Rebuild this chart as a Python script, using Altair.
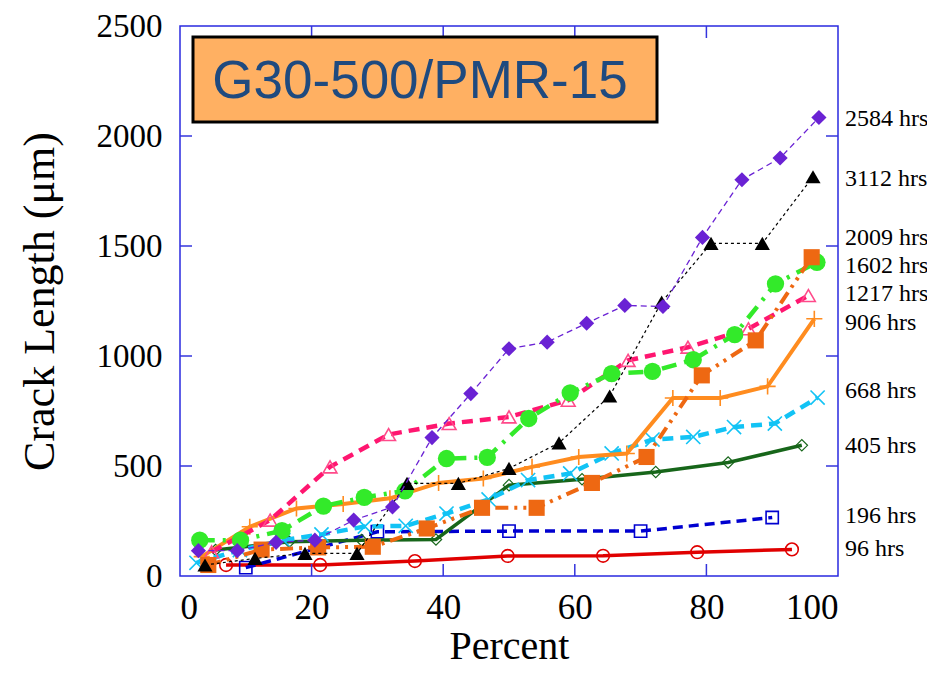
import altair as alt
import pandas as pd

# ---- data ----
x_96 = [7.0, 21.3, 35.7, 49.8, 64.3, 78.6, 93.0]
y_96 = [50, 50, 68, 91, 92, 108, 121]

x_196 = [10.0, 30.0, 50.0, 70.0, 90.0]
y_196 = [38, 201, 204, 204, 266]

x_405 = [5.4, 16.6, 27.6, 38.9, 50.0, 61.1, 72.3, 83.3, 94.5]
y_405 = [118, 156, 163, 166, 413, 440, 473, 516, 594]

x_668 = [2.5, 9.1, 15.7, 21.5, 28.1, 34.3, 40.5, 46.9, 52.9, 59.3, 65.6, 71.8, 78.0, 84.2, 90.4, 96.9]
y_668 = [60, 118, 163, 189, 225, 228, 284, 348, 436, 466, 557, 620, 632, 677, 693, 811]

x_906 = [3.3, 10.6, 17.7, 24.8, 31.9, 39.3, 46.1, 53.5, 60.6, 67.9, 74.9, 82.1, 89.3, 96.4]
y_906 = [88, 224, 307, 327, 353, 423, 443, 496, 541, 557, 809, 809, 862, 1169]

x_1217 = [4.8, 13.7, 22.8, 31.7, 40.9, 50.0, 59.0, 68.1, 77.2, 86.4, 95.5]
y_1217 = [110, 254, 496, 643, 693, 723, 799, 980, 1040, 1124, 1275]

x_1602 = [3.0, 9.2, 15.5, 21.8, 28.0, 34.2, 40.5, 46.7, 53.0, 59.3, 65.6, 71.8, 78.0, 84.3, 90.5, 96.8]
y_1602 = [163, 163, 206, 318, 357, 387, 534, 539, 716, 832, 920, 930, 983, 1097, 1328, 1426]

x_2009 = [4.3, 12.4, 21.0, 29.3, 37.5, 45.9, 54.2, 62.6, 70.9, 79.3, 87.5, 96.0]
y_2009 = [50, 120, 130, 133, 216, 310, 310, 423, 541, 912, 1071, 1449]

x_3112 = [3.8, 11.4, 19.0, 26.9, 34.5, 42.3, 50.0, 57.6, 65.3, 73.2, 80.7, 88.5, 96.2]
y_3112 = [50, 80, 103, 103, 421, 421, 489, 605, 818, 1245, 1512, 1512, 1815]

x_2584 = [2.8, 8.7, 14.6, 20.5, 26.4, 32.3, 38.3, 44.2, 50.0, 55.8, 61.8, 67.6, 73.4, 79.4, 85.4, 91.2, 97.1]
y_2584 = [115, 115, 153, 163, 254, 314, 629, 829, 1033, 1063, 1149, 1230, 1225, 1539, 1801, 1900, 2084]

end_labels = ["2584 hrs", "3112 hrs", "2009 hrs", "1602 hrs", "1217 hrs", "906 hrs",
              "668 hrs", "405 hrs", "196 hrs", "96 hrs"]
end_label_y = [2078, 1806, 1538, 1411, 1284, 1152, 839, 590, 272, 122]

x_ticks = [0, 20, 40, 60, 80, 100]
y_ticks = [0, 500, 1000, 1500, 2000, 2500]
inner_x_ticks = [20, 40, 60, 80]
inner_y_ticks = [500, 1000, 1500, 2000]

W, H = 658, 550
SERIF = "Liberation Serif"

xs = alt.Scale(domain=[0, 100], nice=False)
ys = alt.Scale(domain=[0, 2500], nice=False)

X = alt.X("x:Q", scale=xs, axis=alt.Axis(
    title="Percent", values=x_ticks, format="d", grid=False, domain=False, ticks=False,
    labelFont=SERIF, labelFontSize=35, labelColor="black", labelPadding=14,
    titleFont=SERIF, titleFontSize=40, titleFontWeight="normal", titleColor="black",
    titlePadding=1))
Y = alt.Y("y:Q", scale=ys, axis=alt.Axis(
    title="Crack Length (μm)", values=y_ticks, format="d", grid=False, domain=False, ticks=False,
    labelFont=SERIF, labelFontSize=33, labelColor="black", labelPadding=18,
    titleFont=SERIF, titleFontSize=44, titleFontWeight="normal", titleColor="black",
    titlePadding=34))

PLUS = "M-1,0L1,0M0,-1L0,1"
XMARK = "M-1,-1L1,1M1,-1L-1,1"

series = [
    # xs, ys, color, dash, lw, shape, size, filled, mstroke
    (x_96, y_96, "#e00000", None, 3.5, "circle", 160, False, 1.6),
    (x_196, y_196, "#0000d0", [10, 6], 3.5, "square", 150, False, 1.6),
    (x_405, y_405, "#17661a", None, 3.5, "diamond", 130, False, 1.2),
    (x_668, y_668, "#12c3f5", [11, 7], 4.5, XMARK, 200, False, 1.6),
    (x_906, y_906, "#ff8c1f", None, 4.0, PLUS, 260, False, 1.6),
    (x_1217, y_1217, "#ff1670", [11, 7], 4.5, "triangle-up", 190, False, 1.6),
    (x_1602, y_1602, "#33ea2a", [15, 8, 3, 8], 4.5, "circle", 300, True, 0),
    (x_2009, y_2009, "#ee6812", [13, 6, 3, 6, 3, 6], 4.0, "square", 260, True, 0),
    (x_3112, y_3112, "black", [3, 3], 1.2, "triangle-up", 230, True, 0),
    (x_2584, y_2584, "#6a22d4", [6, 4], 1.3, "diamond", 230, True, 0),
]

layers = []
for sx, sy, color, dash, lw, shape, size, filled, ms in series:
    df = pd.DataFrame({"x": sx, "y": sy})
    lkw = dict(color=color, strokeWidth=lw, clip=True)
    if dash:
        lkw["strokeDash"] = dash
    layers.append(alt.Chart(df).mark_line(**lkw).encode(x=X, y=Y))
    pkw = dict(shape=shape, size=size, filled=filled, color=color, opacity=1)
    if not filled:
        pkw["strokeWidth"] = ms
    if shape == "triangle-up" and not filled:
        pkw["color"] = "#ff4a8a"
    layers.append(alt.Chart(df).mark_point(**pkw).encode(x=X, y=Y))

tick_color = "#3434dd"
xt = pd.DataFrame({"x": inner_x_ticks})
yt = pd.DataFrame({"y": inner_y_ticks})
layers.append(alt.Chart(xt).mark_rule(color=tick_color, strokeWidth=1.5).encode(
    x=alt.X("x:Q", scale=xs), y=alt.value(H), y2=alt.value(H - 12)))
layers.append(alt.Chart(xt).mark_rule(color=tick_color, strokeWidth=1.5).encode(
    x=alt.X("x:Q", scale=xs), y=alt.value(0), y2=alt.value(12)))
layers.append(alt.Chart(yt).mark_rule(color=tick_color, strokeWidth=1.5).encode(
    y=alt.Y("y:Q", scale=ys), x=alt.value(0), x2=alt.value(12)))
layers.append(alt.Chart(yt).mark_rule(color=tick_color, strokeWidth=1.5).encode(
    y=alt.Y("y:Q", scale=ys), x=alt.value(W - 12), x2=alt.value(W)))

# end labels
lab = pd.DataFrame({"label": end_labels, "y": end_label_y})
layers.append(alt.Chart(lab).mark_text(
    align="left", baseline="middle", font=SERIF, fontSize=24, color="black", clip=False
).encode(y=alt.Y("y:Q", scale=ys), x=alt.value(W + 7), text="label:N"))

# title box
one = pd.DataFrame({"a": [0]})
layers.append(alt.Chart(one).mark_rect(fill="#ffb062", stroke="black", strokeWidth=3).encode(
    x=alt.value(13), x2=alt.value(477), y=alt.value(11), y2=alt.value(96)))
layers.append(alt.Chart(one).mark_text(
    text="G30-500/PMR-15", font="Liberation Sans", fontSize=53, color="#1f4a7f",
    align="center", baseline="middle").encode(x=alt.value(240), y=alt.value(56)))

chart = alt.layer(*layers).properties(
    width=W, height=H,
    autosize=alt.AutoSizeParams(type="none"),
    padding={"left": 172, "top": 18, "right": 89, "bottom": 93},
).configure_view(stroke="#2a2ae0", strokeWidth=1.5)

chart.save("out.html", embed_options={"renderer": "svg", "actions": False})
